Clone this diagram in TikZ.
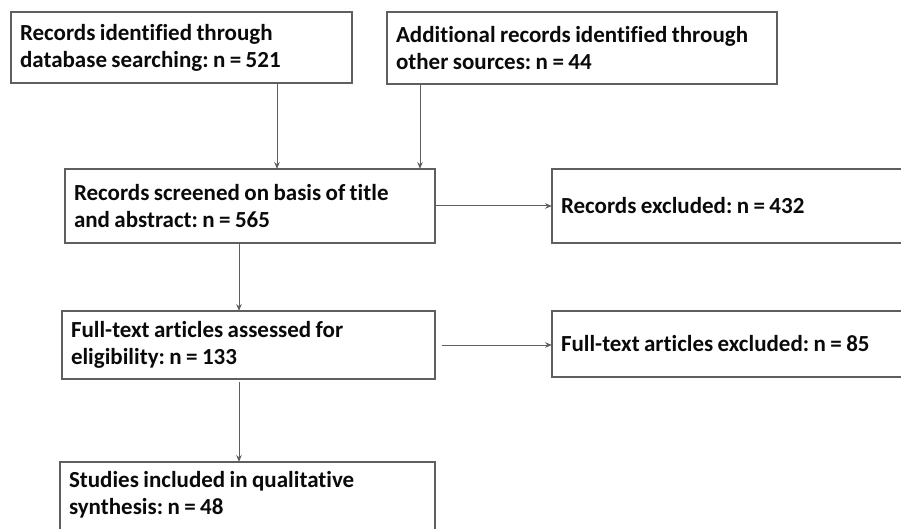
\documentclass[tikz,border=0pt]{standalone}
\usepackage{fontspec}
\setmainfont{Carlito}[Ligatures=NoCommon,WordSpace=0.85]
\usetikzlibrary{arrows.meta}
\definecolor{edgegray}{RGB}{95,95,95}
\definecolor{txt}{RGB}{10,10,10}
\begin{document}
\frenchspacing
\begin{tikzpicture}[x=1pt,y=-1pt,
  lbl/.style={align=left, text=txt, font=\frenchspacing\bfseries\fontsize{23}{27}\selectfont,
    execute at begin node={\spaceskip=0pt\xspaceskip=0pt\relax}},
  box/.style={lbl, draw=edgegray, line width=1.4pt, rectangle, anchor=north west, outer sep=0pt,
    inner xsep=9pt, inner ysep=0pt},
  arr/.style={draw=edgegray, line width=1pt, -{Stealth[length=7pt,width=5.5pt]}}]
\useasboundingbox (0,0) rectangle (901,529);
\clip (0,0) rectangle (901,529);
\node[box, minimum width=341pt, minimum height=71pt, text width=323pt] (b1) at (11,12)
  {Records identified through\\database searching: n = 521};
\node[box, minimum width=390pt, minimum height=72pt, text width=372pt] (b2) at (387,12)
  {Additional records identified through\\other sources: n = 44};
\node[box, minimum width=370pt, minimum height=74pt, text width=352pt] (b3) at (65,169)
  {Records screened on basis of title\\and abstract: n = 565};
\node[box, minimum width=360pt, minimum height=74pt, text width=342pt] (e1) at (552,169)
  {Records excluded: n = 432};
\node[box, minimum width=373pt, minimum height=68pt, text width=355pt] (b4) at (62,311)
  {Full-text articles assessed for\\eligibility: n = 133};
\node[box, minimum width=360pt, minimum height=66pt, text width=342pt] (e2) at (552,311)
  {Full-text articles excluded: n = 85};
\node[box, minimum width=375pt, minimum height=80pt, text width=357pt] (b5) at (60,462) {};
\node[lbl, anchor=north west, inner sep=0pt, outer sep=0pt] (b5t)
  at ([xshift=9pt,yshift=-9pt]b5.north west)
  {Studies included in qualitative\\synthesis: n = 48};
\coordinate (c1) at (277,0);
\coordinate (c2) at (420,0);
\coordinate (c3) at (239,0);
\draw[arr] (b1.south -| c1) -- (b3.north -| c1);
\draw[arr] (b2.south -| c2) -- (b3.north -| c2);
\draw[arr] (b3.east) -- (e1.west |- b3.east);
\draw[arr] (b3.south -| c3) -- (b4.north -| c3);
\draw[arr] ([xshift=7pt]b4.east) -- (e2.west |- b4.east);
\draw[arr] ([yshift=-3pt]b4.south -| c3) -- (b5.north -| c3);
\end{tikzpicture}
\end{document}
